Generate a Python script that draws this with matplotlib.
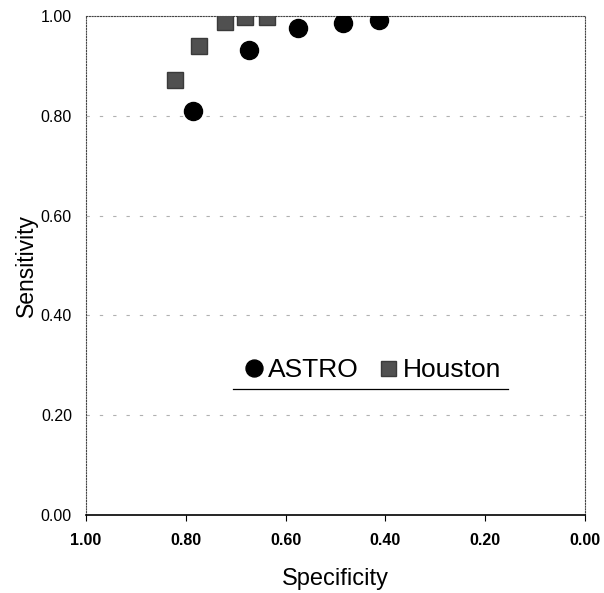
import matplotlib
matplotlib.use("Agg")
import matplotlib.pyplot as plt
from matplotlib.lines import Line2D

# data
astro_spec = [0.786, 0.673, 0.575, 0.485, 0.413]
astro_sens = [0.810, 0.932, 0.976, 0.986, 0.992]
houston_spec = [0.822, 0.774, 0.721, 0.681, 0.637]
houston_sens = [0.872, 0.940, 0.988, 0.998, 0.998]
ticks = [0.0, 0.2, 0.4, 0.6, 0.8, 1.0]
tick_labels = ["0.00", "0.20", "0.40", "0.60", "0.80", "1.00"]

plt.rcParams["font.family"] = ["Liberation Sans", "DejaVu Sans"]

fig = plt.figure(figsize=(6.04, 5.93), dpi=100)
ax = fig.add_axes([0.142, 0.1315, 0.827, 0.8415])

# faint broken grid lines
for y in ticks[1:-1]:
    ax.axhline(y, color="#b0b0b0", lw=0.8, ls=(0, (3, 9)), zorder=0)

ax.plot(astro_spec, astro_sens, "o", color="black", markersize=13,
        label="ASTRO", zorder=3)
ax.plot(houston_spec, houston_sens, "s", color="#505050", mec="#3a3a3a",
        markersize=12, label="Houston", zorder=3)

ax.set_xlim(1.0, 0.0)
ax.set_ylim(0.0, 1.0)
ax.set_xticks(ticks)
ax.set_xticklabels(tick_labels, fontweight="bold", fontsize=11.5)
ax.set_yticks(ticks)
ax.set_yticklabels(tick_labels, fontsize=11.5)
ax.tick_params(axis="x", length=4, width=0.8, pad=9, color="black")
ax.tick_params(axis="y", length=0, pad=10)

for side in ["top", "right", "left"]:
    ax.spines[side].set_linestyle((0, (1, 1.5)))
    ax.spines[side].set_linewidth(0.8)
    ax.spines[side].set_color("#444444")
ax.spines["bottom"].set_linewidth(1.2)

ax.set_xlabel("Specificity", fontsize=17, labelpad=14)
ax.set_ylabel("Sensitivity", fontsize=16.5)
ax.yaxis.set_label_coords(-0.095, 0.5)

leg = ax.legend(loc="center", bbox_to_anchor=(0.573, 0.29), ncol=2,
                frameon=False, fontsize=19, handlelength=0.8,
                handletextpad=0.15, columnspacing=0.7)
leg.legend_handles[0].set_markersize(12.2)
leg.legend_handles[1].set_markersize(10.8)

# rule under the legend
ax.add_line(Line2D([0.295, 0.846], [0.252, 0.252], transform=ax.transAxes,
                   color="black", lw=0.9))

fig.savefig("out.png", dpi=100)
